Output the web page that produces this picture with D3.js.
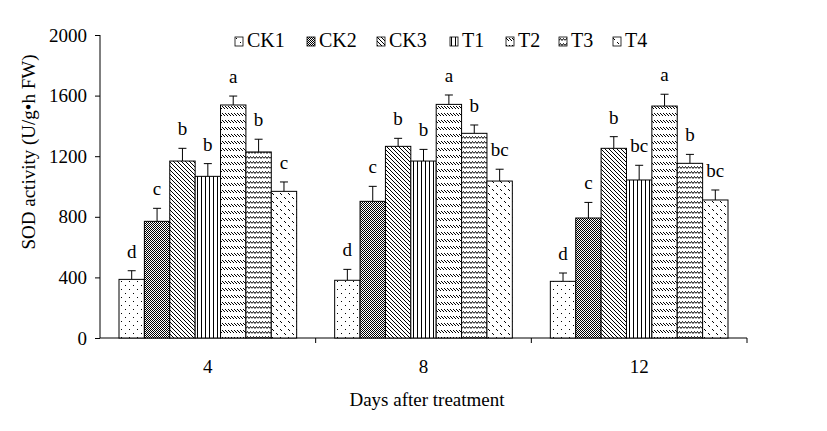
<!DOCTYPE html>
<html>
<head>
<meta charset="utf-8">
<script src="https://cdn.jsdelivr.net/npm/d3@7"></script>
<style>
body{margin:0;background:#fff;}
svg text{font-family:"Liberation Serif",serif;fill:#000;}
</style>
</head>
<body>
<svg id="chart" width="827" height="431" font-family="Liberation Serif"></svg>
<script>
var days = ["4", "8", "12"];
var series = ["CK1", "CK2", "CK3", "T1", "T2", "T3", "T4"];
var means = [
  [387, 770, 1168, 1067, 1538, 1228, 968],
  [381, 902, 1265, 1168, 1542, 1351, 1036],
  [374, 792, 1252, 1043, 1531, 1153, 911]
];
var errs = [
  [57, 86, 84, 84, 59, 84, 62],
  [72, 99, 53, 77, 62, 55, 78],
  [55, 103, 77, 97, 78, 59, 66]
];
var letters = [
  ["d", "c", "b", "b", "a", "b", "c"],
  ["d", "c", "b", "b", "a", "b", "bc"],
  ["d", "c", "b", "bc", "a", "b", "bc"]
];
var yTicks = [0, 400, 800, 1200, 1600, 2000];

var svg = d3.select("#chart");
var defs = svg.append("defs");

// fill patterns, one per series
function pat(id, w, h){
  var p = defs.append("pattern").attr("id", id)
    .attr("patternUnits", "userSpaceOnUse")
    .attr("width", w).attr("height", h);
  p.append("rect").attr("width", w).attr("height", h).attr("fill", "#fff");
  return p;
}
function dot(p, px, py){
  p.append("rect").attr("x", px).attr("y", py).attr("width", 1).attr("height", 1).attr("fill", "#000");
}
var p;
p = pat("p0", 8, 8);
dot(p, 1, 1);
dot(p, 5, 5);

p = pat("p1", 2, 2);
dot(p, 0, 0);
dot(p, 1, 1);

p = pat("p2", 4, 4);
p.append("path").attr("d", "M-1,-1L5,5M-1,3L1,5M3,-1L5,1").attr("stroke", "#000").attr("stroke-width", 1);

p = pat("p3", 4, 4);
p.append("rect").attr("x", 1).attr("y", 0).attr("width", 1).attr("height", 4).attr("fill", "#000");

p = pat("p4", 3, 7);
p.append("path").attr("d", "M0,1L3,4").attr("stroke", "#000").attr("stroke-width", 1);

p = pat("p5", 6, 5);
p.append("path").attr("d", "M0,3.5L1.5,1.5L3,3.5L4.5,1.5L6,3.5").attr("stroke", "#000").attr("stroke-width", 1).attr("fill", "none");

p = pat("p6", 8, 8);
[[0, 1], [1, 2], [4, 5], [5, 6]].forEach(function(d){ dot(p, d[0], d[1]); });

var x = d3.scaleBand().domain(days).range([100, 747]);
var xs = d3.scaleBand().domain(series).range([19, x.bandwidth() - 19]);
var y = d3.scaleLinear().domain([0, 2000]).range([338, 35]);

// y axis
var yAxis = svg.append("g").attr("transform", "translate(100,0)")
  .call(d3.axisLeft(y).tickValues(yTicks).tickFormat(d3.format("d")).tickSize(5).tickPadding(8));
yAxis.selectAll("text").style("font-size", "19px").style("font-family", "Liberation Serif");
yAxis.selectAll("line,path").attr("stroke", "#000");
yAxis.select(".domain").attr("d", "M0," + y(2000) + "V" + y(0));

// x axis
var xAxis = svg.append("g").attr("transform", "translate(0,338)")
  .call(d3.axisBottom(x).tickSize(0).tickPadding(22));
xAxis.selectAll("text").style("font-size", "19px").style("font-family", "Liberation Serif");
xAxis.select(".domain").attr("stroke", "#000").attr("d", "M100,0H747");
svg.append("g").selectAll("line")
  .data(days.slice(1).concat(["end"]))
  .enter()
  .append("line")
  .attr("x1", function(d){ return d == "end" ? 747 : x(d); })
  .attr("x2", function(d){ return d == "end" ? 747 : x(d); })
  .attr("y1", 338).attr("y2", 343)
  .attr("stroke", "#000");

// bars
var rows = [];
days.forEach(function(day, i){
  series.forEach(function(s, j){
    rows.push({day: day, s: s, j: j, v: means[i][j], e: errs[i][j], l: letters[i][j]});
  });
});

var g = svg.append("g");
g.selectAll("path.err")
  .data(rows)
  .enter()
  .append("path")
  .attr("class", "err")
  .attr("d", function(d){
    var cx = x(d.day) + xs(d.s) + xs.bandwidth() / 2;
    return "M" + cx + "," + y(d.v) + "V" + y(d.v + d.e) + "M" + (cx - 4) + "," + y(d.v + d.e) + "H" + (cx + 4);
  })
  .attr("stroke", "#000")
  .attr("fill", "none");

g.selectAll("rect.bar")
  .data(rows)
  .enter()
  .append("rect")
  .attr("class", "bar")
  .attr("x", function(d){ return x(d.day) + xs(d.s); })
  .attr("y", function(d){ return y(d.v); })
  .attr("width", xs.bandwidth())
  .attr("height", function(d){ return y(0) - y(d.v); })
  .attr("fill", function(d){ return "url(#p" + d.j + ")"; })
  .attr("stroke", "#000")
  .attr("stroke-width", 1);

g.selectAll("text.sig")
  .data(rows)
  .enter()
  .append("text")
  .attr("class", "sig")
  .attr("x", function(d){ return x(d.day) + xs(d.s) + xs.bandwidth() / 2; })
  .attr("y", function(d){ return y(d.v + d.e) - 13; })
  .attr("text-anchor", "middle")
  .style("font-size", "19px")
  .text(function(d){ return d.l; });

// legend
var legX = [235, 307, 377, 450, 506, 559, 613];
var leg = svg.append("g").selectAll("g")
  .data(series)
  .enter()
  .append("g")
  .attr("transform", function(d, i){ return "translate(" + legX[i] + ",37)"; });
leg.append("rect")
  .attr("width", 8).attr("height", 9)
  .attr("fill", function(d, i){ return "url(#p" + i + ")"; })
  .attr("stroke", "#000").attr("stroke-width", 0.8);
leg.append("text")
  .attr("x", 12).attr("y", 10)
  .style("font-size", "20px")
  .text(function(d){ return d; });

// axis titles
svg.append("text")
  .attr("x", 427).attr("y", 406)
  .attr("text-anchor", "middle")
  .style("font-size", "19px")
  .text("Days after treatment");
svg.append("text")
  .attr("transform", "translate(35,152) rotate(-90)")
  .attr("text-anchor", "middle")
  .style("font-size", "19px")
  .text("SOD activity (U/g\u2022h FW)");
</script>
</body>
</html>
